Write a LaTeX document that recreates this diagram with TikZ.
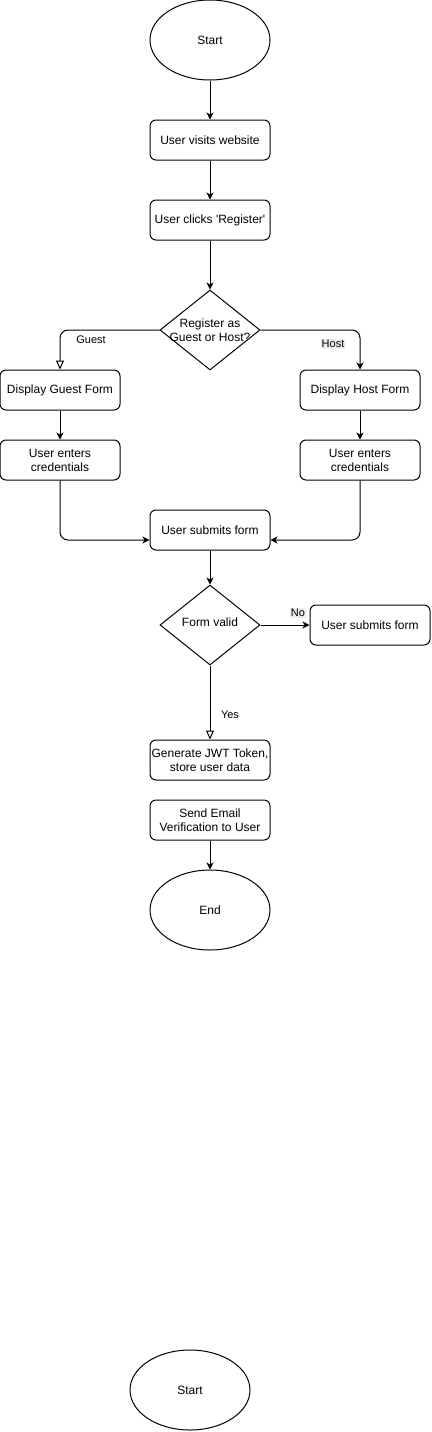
\documentclass[tikz,border=0pt]{standalone}
\usepackage{fontspec}
\setmainfont{Liberation Sans}
\usetikzlibrary{shapes.geometric,arrows.meta}
\tikzset{
  base/.style={draw=black,line width=1pt,font=\fontsize{12}{14}\selectfont,align=center,inner sep=0pt},
  procbox/.style={base,rectangle,rounded corners=6pt,minimum width=120pt,minimum height=40pt},
  term/.style={base,ellipse,minimum width=120pt,minimum height=80pt},
  decide/.style={base,diamond,minimum width=100pt,minimum height=80pt},
  flow/.style={line width=1pt,-{Stealth[length=7pt,width=7pt,inset=2pt]}},
  openflow/.style={line width=1pt,-{Triangle[open,length=9pt,width=8pt]}},
  elabel/.style={font=\fontsize{11}{13}\selectfont,inner sep=1pt},
  glabel/.style={elabel,fill=black!7},
}
\begin{document}
\begin{tikzpicture}[x=1pt,y=-1pt]
\useasboundingbox (0,0) rectangle (431,1432);
\node[term] (start) at (210,40) {Start};
\node[procbox] (visits) at (210,140) {User visits website};
\node[procbox] (clicks) at (210,220) {User clicks \textquotesingle Register\textquotesingle};
\node[decide,label={[font=\fontsize{12}{14}\selectfont,align=center]center:Register as\\Guest or Host?}] (reg) at (210,330) {};
\node[procbox] (gform) at (60,390) {Display Guest Form};
\node[procbox] (gcred) at (60,460) {User enters\\credentials};
\node[procbox] (hform) at (360,390) {Display Host Form};
\node[procbox] (hcred) at (360,460) {User enters\\credentials};
\node[procbox] (submit) at (210,530) {User submits form};
\node[decide] (valid) at (210,625) {};
\node[font=\fontsize{12}{14}\selectfont] (validtxt) at (210,622) {Form valid};
\node[procbox] (nobox) at (370,625) {User submits form};
\node[procbox] (jwt) at (210,760) {Generate JWT Token,\\store user data};
\node[procbox] (email) at (210,820) {Send Email\\Verification to User};
\node[term] (end) at (210,910) {End};
\node[term] (start2) at (190,1390) {Start};

\draw[flow] (start) -- (visits);
\draw[flow] (visits) -- (clicks);
\draw[flow] (clicks) -- (reg.north);
\draw[openflow,rounded corners=8pt] (reg.west) -| (gform.north);
\draw[flow,rounded corners=8pt] (reg.east) -| (hform.north);
\draw[flow] (gform) -- (gcred);
\draw[flow] (hform) -- (hcred);
\draw[flow,rounded corners=8pt] (gcred.south) |- ([yshift=-10pt]submit.west);
\draw[flow,rounded corners=8pt] (hcred.south) |- ([yshift=-10pt]submit.east);
\draw[flow] (submit) -- (valid.north);
\draw[flow] (valid.east) -- (nobox.west);
\draw[openflow] (valid.south) -- (jwt.north);
\draw[flow] (email) -- (end);

\node[elabel] (lguest) at (91,340) {Guest};
\node[glabel] (lhost) at (333,344) {Host};
\node[glabel] (lno) at (298,613) {No};
\node[elabel] (lyes) at (230,715) {Yes};
\end{tikzpicture}
\end{document}
